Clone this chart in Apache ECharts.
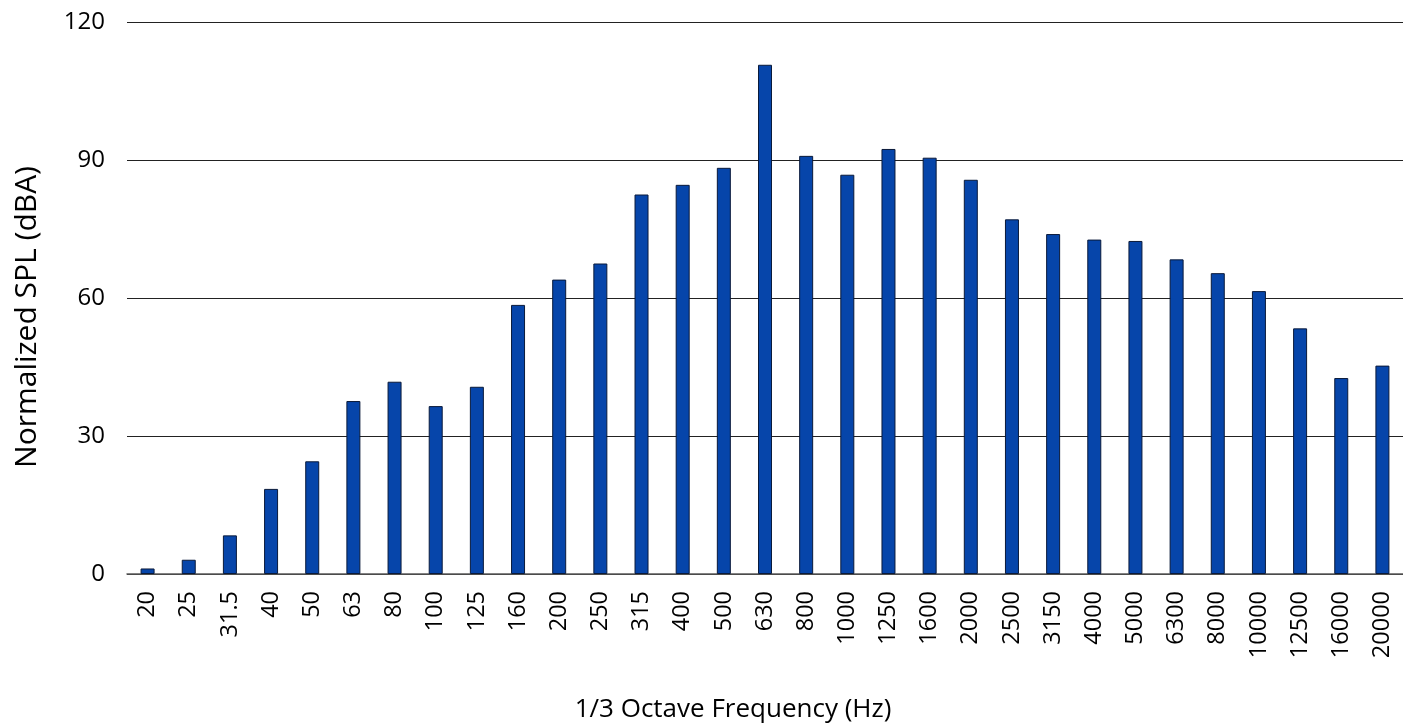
<!DOCTYPE html>
<html><head><meta charset="utf-8">
<script src="https://cdn.jsdelivr.net/npm/echarts@6/dist/echarts.min.js"></script>
<style>html,body{margin:0;padding:0;background:#fff}#c{width:1403px;height:726px}</style>
</head><body><div id="c"></div>
<script>
const categories = ['20','25','31.5','40','50','63','80','100','125','160','200','250','315','400','500','630','800','1000','1250','1600','2000','2500','3150','4000','5000','6300','8000','10000','12500','16000','20000'];
const splValues = [1.2,3.1,8.4,18.5,24.5,37.6,41.8,36.5,40.7,58.5,64,67.5,82.5,84.6,88.3,110.7,90.9,86.8,92.4,90.5,85.7,77.1,73.9,72.7,72.4,68.4,65.4,61.5,53.4,42.6,45.3];
const yTicks = [0,30,60,90,120];
const font = 'Open Sans';
const chart = echarts.init(document.getElementById('c'));
chart.setOption({
  animation:false,
  grid:{left:127,right:0,top:22,bottom:152,containLabel:false,outerBoundsMode:'none'},
  xAxis:{type:'category',data:categories,offset:5,
    name:'1/3 Octave Frequency (Hz)',nameLocation:'middle',nameGap:118,
    nameTextStyle:{fontFamily:font,fontSize:26,color:'#000',padding:[0,64,0,0]},
    axisLine:{lineStyle:{color:'#595959',width:1.5}},axisTick:{show:false},
    axisLabel:{rotate:90,fontFamily:font,fontSize:23.5,color:'#000',margin:12,interval:0}},
  yAxis:{type:'value',min:yTicks[0],max:yTicks[yTicks.length-1],interval:30,
    name:'Normalized SPL (dBA)',nameLocation:'middle',nameGap:85,
    nameTextStyle:{fontFamily:font,fontSize:30,color:'#000',padding:[0,38,0,0]},
    axisLine:{show:false},axisTick:{show:false},
    axisLabel:{fontFamily:font,fontSize:24,color:'#000',margin:22},
    splitLine:{lineStyle:{color:'#222',width:1}}},
  series:[{type:'bar',data:splValues,barWidth:14,
    itemStyle:{color:'#0645aa',borderColor:'#0a1a3a',borderWidth:1}}]
});
</script></body></html>
